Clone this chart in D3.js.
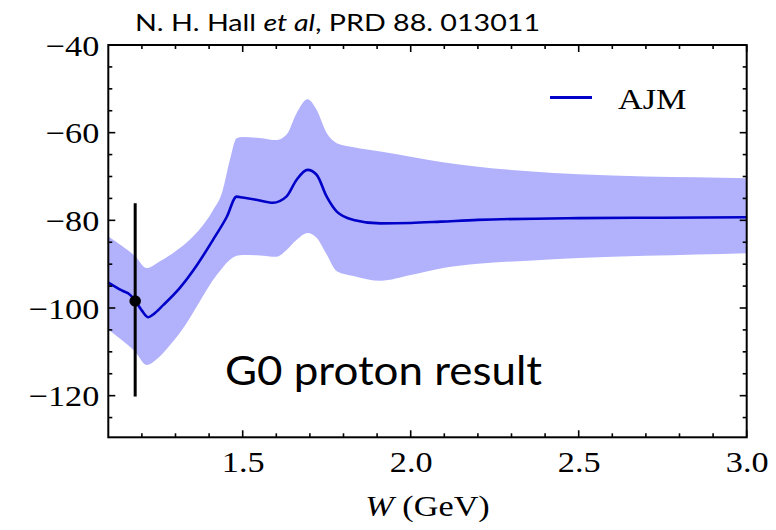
<!DOCTYPE html>
<html>
<head>
<meta charset="utf-8">
<script src="https://cdn.jsdelivr.net/npm/d3@7/dist/d3.min.js"></script>
<style>
  html, body { margin: 0; padding: 0; background: #fff; }
  svg { display: block; }
</style>
</head>
<body>
<svg id="chart" width="776" height="530"></svg>
<script>
// AJM model: central value and uncertainty band versus W (GeV)
const wCentral = [1.10, 1.14, 1.165, 1.18, 1.20, 1.219, 1.235, 1.264, 1.313, 1.363, 1.412, 1.452, 1.482,
  1.50, 1.54, 1.59, 1.63, 1.66, 1.693, 1.72, 1.75, 1.78, 1.83, 1.91, 2.0, 2.09, 2.2, 2.5, 2.75, 3.0];
const ajmCentral = [-94.2, -96.0, -97.0, -98.3, -100.6, -102.1, -101.4, -99.3, -95.4, -90.3, -84.4, -79.3, -74.6,
  -74.8, -75.3, -76.0, -74.6, -70.8, -68.5, -69.6, -74.6, -78.0, -79.9, -80.7, -80.6, -80.3, -79.9, -79.5, -79.4, -79.3];

const wBand = [1.10, 1.14, 1.18, 1.214, 1.25, 1.29, 1.33, 1.37, 1.41, 1.44, 1.462, 1.482, 1.50, 1.55, 1.60,
  1.63, 1.66, 1.693, 1.72, 1.75, 1.78, 1.83, 1.91, 2.0, 2.1, 2.2, 2.35, 2.5, 2.7, 2.85, 3.0];
const ajmUpper = [-83.7, -85.8, -88.2, -90.9, -89.5, -87.6, -85.3, -82.2, -77.9, -73.3, -66.2, -61.3, -61.0, -61.2, -61.7,
  -60.5, -55.6, -52.4, -54.8, -60.1, -62.4, -63.3, -64.3, -65.5, -66.8, -67.8, -68.8, -69.5, -70.0, -70.2, -70.4];
const ajmLower = [-104.9, -107.3, -110.0, -113.0, -111.3, -107.9, -103.8, -98.8, -93.8, -90.8, -89.0, -88.1, -87.9, -88.0, -88.3,
  -86.8, -84.5, -82.9, -84.0, -87.8, -91.6, -92.7, -93.8, -92.5, -90.8, -89.9, -89.2, -88.6, -88.1, -87.8, -87.5];

// G0 measurement
const g0W = [1.18];
const g0Value = [-98.4];
const g0ErrUp = [22.3];
const g0ErrDown = [21.8];

// Axis ticks
const xMajorTicks = [1.5, 2.0, 2.5, 3.0];
const xMinorTicks = [1.2, 1.3, 1.4, 1.6, 1.7, 1.8, 1.9, 2.1, 2.2, 2.3, 2.4, 2.6, 2.7, 2.8, 2.9];
const yMajorTicks = [-120, -100, -80, -60, -40];
const yMinorTicks = [-125, -115, -110, -105, -95, -90, -85, -75, -70, -65, -55, -50, -45];

const titleParts = [["N. H. Hall ", "normal"], ["et al", "italic"], [", PRD 88. 013011", "normal"]];
const legendLabel = "AJM";
const noteLabel = "G0 proton result";
const xLabelParts = [["W", "italic"], [" (GeV)", "normal"]];

const svg = d3.select("#chart");
const plotLeft = 108.3, plotRight = 746.7, plotTop = 45, plotBottom = 437.3;
const x = d3.scaleLinear().domain([1.1, 3.0]).range([plotLeft, plotRight]);
const y = d3.scaleLinear().domain([-129.5, -40]).range([plotBottom, plotTop]);

const serif = "'Liberation Serif', 'Times New Roman', serif";
const sans = "Lato, 'Open Sans', sans-serif";
const stretch = 1.16;

// uncertainty band: upper edge left to right, lower edge back
const edge = d3.line().x(d => x(d[0])).y(d => y(d[1])).curve(d3.curveMonotoneX);
const upperPath = edge(wBand.map((w, i) => [w, ajmUpper[i]]));
const lowerPath = edge(wBand.map((w, i) => [w, ajmLower[i]]).reverse());
svg.append("path")
  .attr("d", upperPath + "L" + lowerPath.slice(1) + "Z")
  .attr("fill", "#b2b2fc")
  .attr("stroke", "none");

// central line
svg.append("path")
  .datum(wCentral.map((w, i) => [w, ajmCentral[i]]))
  .attr("d", edge)
  .attr("fill", "none")
  .attr("stroke", "#0000c8")
  .attr("stroke-width", 2.6);

// frame ticks on all four sides, pointing inward
const tickLayer = svg.append("g").attr("stroke", "#000").attr("stroke-width", 1.6);
function vTicks(vals, len) {
  vals.forEach(v => {
    tickLayer.append("line").attr("x1", x(v)).attr("x2", x(v)).attr("y1", plotBottom).attr("y2", plotBottom - len);
    tickLayer.append("line").attr("x1", x(v)).attr("x2", x(v)).attr("y1", plotTop).attr("y2", plotTop + len);
  });
}
function hTicks(vals, len) {
  vals.forEach(v => {
    tickLayer.append("line").attr("y1", y(v)).attr("y2", y(v)).attr("x1", plotLeft).attr("x2", plotLeft + len);
    tickLayer.append("line").attr("y1", y(v)).attr("y2", y(v)).attr("x1", plotRight).attr("x2", plotRight - len);
  });
}
vTicks(xMajorTicks, 7);
vTicks(xMinorTicks, 4);
hTicks(yMajorTicks, 7);
hTicks(yMinorTicks, 4);

// frame
svg.append("rect")
  .attr("x", plotLeft).attr("y", plotTop)
  .attr("width", plotRight - plotLeft).attr("height", plotBottom - plotTop)
  .attr("fill", "none").attr("stroke", "#000").attr("stroke-width", 2);

// tick labels via d3 axes (the frame carries the tick marks)
const xAxis = svg.append("g")
  .attr("transform", `translate(0,${plotBottom})`)
  .call(d3.axisBottom(x).tickValues(xMajorTicks).tickFormat(d3.format(".1f")).tickSize(0).tickPadding(0));
const yAxis = svg.append("g")
  .attr("transform", `translate(${plotLeft},0)`)
  .call(d3.axisLeft(y).tickValues(yMajorTicks).tickFormat(d => "\u2212" + Math.abs(d)).tickSize(0).tickPadding(0));
[xAxis, yAxis].forEach(a => {
  a.select(".domain").remove();
  a.selectAll("text").attr("font-family", serif).attr("font-size", 29.5).attr("fill", "#000");
});
xAxis.selectAll("text").attr("dy", null).attr("y", 35).attr("x", 0).attr("transform", `scale(${stretch},1)`);
yAxis.selectAll("text").attr("dy", "0.34em").attr("x", -9 / stretch).attr("transform", `scale(${stretch},1)`);

// axis title
const xl = svg.append("g").attr("transform", `translate(${(plotLeft + plotRight) / 2},516) scale(${stretch},1)`)
  .append("text").attr("text-anchor", "middle").attr("font-family", serif).attr("font-size", 29.5).attr("fill", "#000");
xLabelParts.forEach(p => xl.append("tspan").attr("font-style", p[1]).text(p[0]));

// G0 data point with error bar
g0W.forEach((w, i) => {
  svg.append("line")
    .attr("x1", x(w)).attr("x2", x(w))
    .attr("y1", y(g0Value[i] + g0ErrUp[i])).attr("y2", y(g0Value[i] - g0ErrDown[i]))
    .attr("stroke", "#000").attr("stroke-width", 3);
  svg.append("circle").attr("cx", x(w)).attr("cy", y(g0Value[i])).attr("r", 5.8).attr("fill", "#000");
});

// legend
svg.append("line").attr("x1", 550).attr("x2", 592).attr("y1", 97.5).attr("y2", 97.5)
  .attr("stroke", "#0000c8").attr("stroke-width", 3);
svg.append("g").attr("transform", `translate(618,109) scale(${stretch},1)`)
  .append("text").attr("font-family", serif).attr("font-size", 29.5).attr("fill", "#000").text(legendLabel);

// title
const tt = svg.append("text").attr("x", 135).attr("y", 31)
  .attr("font-family", sans).attr("font-size", 23).attr("fill", "#000")
  .attr("textLength", 405).attr("lengthAdjust", "spacingAndGlyphs");
titleParts.forEach(p => tt.append("tspan").attr("font-style", p[1]).text(p[0]));

// annotation
svg.append("text").attr("x", 225).attr("y", 385)
  .attr("font-family", sans).attr("font-size", 41).attr("fill", "#000")
  .attr("textLength", 317).attr("lengthAdjust", "spacingAndGlyphs")
  .text(noteLabel);
</script>
</body>
</html>
